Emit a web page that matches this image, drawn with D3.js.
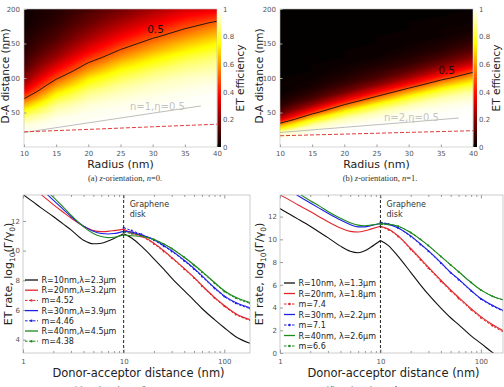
<!DOCTYPE html>
<html>
<head>
<meta charset="utf-8">
<script src="https://cdn.jsdelivr.net/npm/d3@7"></script>
<style>
body { margin: 0; background: #fff; }
svg text { font-family: "DejaVu Sans", sans-serif; }
.tick text { fill: #555; font-size: 7px; }
.tick line { stroke: #999; }
.cap { font-family: "Liberation Serif", serif; font-size: 8.5px; fill: #333; }
</style>
</head>
<body>
<svg id="fig" width="504" height="387"></svg>
<script>
// ---- heat maps: ET efficiency vs radius (columns) and D-A distance (rows)
var radii = [10, 15, 20, 25, 30, 35, 40];
var distRows = [0, 10, 20, 30, 40, 50, 60, 70, 80, 90, 100, 110, 120, 130, 140, 150, 160, 170, 180, 190, 200];

var effN0 = [
  [1, 1, 1, 1, 1, 1, 1],
  [1, 1, 1, 1, 1, 1, 1],
  [0.99, 1, 1, 1, 1, 1, 1],
  [0.97, 0.99, 1, 1, 1, 1, 1],
  [0.90, 0.98, 0.99, 1, 1, 1, 1],
  [0.79, 0.94, 0.98, 0.99, 1, 1, 1],
  [0.65, 0.89, 0.96, 0.98, 0.99, 0.99, 1],
  [0.50, 0.80, 0.92, 0.96, 0.98, 0.99, 0.99],
  [0.37, 0.70, 0.87, 0.93, 0.96, 0.98, 0.99],
  [0.27, 0.59, 0.79, 0.89, 0.94, 0.96, 0.98],
  [0.19, 0.48, 0.71, 0.83, 0.90, 0.94, 0.96],
  [0.14, 0.38, 0.61, 0.76, 0.85, 0.90, 0.93],
  [0.10, 0.30, 0.52, 0.68, 0.78, 0.86, 0.90],
  [0.08, 0.23, 0.43, 0.59, 0.71, 0.80, 0.86],
  [0.06, 0.18, 0.35, 0.51, 0.63, 0.73, 0.80],
  [0.05, 0.14, 0.29, 0.43, 0.56, 0.66, 0.74],
  [0.04, 0.11, 0.23, 0.36, 0.48, 0.58, 0.67],
  [0.03, 0.09, 0.19, 0.30, 0.41, 0.51, 0.60],
  [0.02, 0.07, 0.15, 0.25, 0.34, 0.44, 0.52],
  [0.02, 0.06, 0.13, 0.20, 0.29, 0.37, 0.43],
  [0.02, 0.05, 0.10, 0.17, 0.24, 0.31, 0.34]
];

var effN1 = [
  [1, 1, 1, 1, 1, 1, 1],
  [1, 1, 1, 1, 1, 1, 1],
  [0.93, 0.99, 1, 1, 1, 1, 1],
  [0.65, 0.93, 0.99, 1, 1, 1, 1],
  [0.31, 0.73, 0.93, 0.98, 0.99, 1, 1],
  [0.13, 0.44, 0.77, 0.92, 0.98, 0.99, 1],
  [0.06, 0.23, 0.53, 0.78, 0.92, 0.97, 0.99],
  [0.03, 0.11, 0.31, 0.57, 0.80, 0.92, 0.96],
  [0.01, 0.06, 0.16, 0.36, 0.61, 0.81, 0.91],
  [0.01, 0.03, 0.09, 0.20, 0.40, 0.64, 0.80],
  [0.01, 0.02, 0.05, 0.11, 0.24, 0.44, 0.64],
  [0, 0.01, 0.03, 0.07, 0.14, 0.28, 0.47],
  [0, 0.01, 0.02, 0.04, 0.08, 0.17, 0.31],
  [0, 0, 0.01, 0.02, 0.05, 0.10, 0.20],
  [0, 0, 0.01, 0.01, 0.03, 0.06, 0.13],
  [0, 0, 0, 0.01, 0.02, 0.04, 0.08],
  [0, 0, 0, 0.01, 0.01, 0.02, 0.05],
  [0, 0, 0, 0, 0.01, 0.02, 0.03],
  [0, 0, 0, 0, 0.01, 0.01, 0.02],
  [0, 0, 0, 0, 0, 0.01, 0.01],
  [0, 0, 0, 0, 0, 0, 0.01]
];

// grey n+1 line and red dashed line, [radius, distance]
var greyN0 = [[10, 21], [20, 35], [30, 49], [37.5, 59.5]];
var redN0 = [[10, 22], [20, 25.5], [30, 29.3], [40, 33]];
var greyN1 = [[10, 21], [20, 28.5], [30, 36], [37.8, 42]];
var redN1 = [[10, 16.3], [20, 18.7], [30, 21.2], [40, 23.6]];

var radiusTicks = [10, 15, 20, 25, 30, 35, 40];
var distTicks = [50, 100, 150, 200];
var cbTicks = [0, 0.2, 0.4, 0.6, 0.8, 1];

// ---- ET rate curves, inside (d<=10) and outside (d>=10) the disk
var distIn = [1, 1.25, 1.5, 2, 2.5, 3, 4, 5, 6, 7, 8, 10];
var distOut = [10, 12, 15, 20, 25, 30, 40, 50, 60, 80, 100, 130, 180];

var n0R10In = [13.78, 13.3, 12.9, 12.3, 11.8, 11.4, 10.7, 10.46, 10.5, 10.65, 10.82, 11.13];
var n0R10Out = [11.13, 10.85, 10.3, 9.45, 8.75, 8.15, 7.3, 6.65, 6.1, 5.35, 4.8, 4.2, 3.75];
var n0R20In = [14.7, 14.2, 13.8, 13.1, 12.6, 12.2, 11.65, 11.35, 11.28, 11.3, 11.35, 11.45];
var n0R20Out = [11.45, 11.2, 11.0, 10.5, 10.0, 9.55, 8.8, 8.2, 7.65, 6.85, 6.3, 5.75, 5.35];
var n0R30In = [15.2, 14.7, 14.2, 13.4, 12.8, 12.3, 11.65, 11.3, 11.15, 11.12, 11.15, 11.3];
var n0R30Out = [11.3, 11.25, 11.05, 10.75, 10.35, 10.0, 9.35, 8.8, 8.3, 7.5, 6.95, 6.5, 6.15];
var n0R40In = [15.3, 14.8, 14.4, 13.6, 12.95, 12.4, 11.6, 11.15, 10.95, 10.88, 10.9, 11.05];
var n0R40Out = [11.05, 11.0, 10.95, 10.75, 10.45, 10.15, 9.55, 9.05, 8.6, 7.85, 7.3, 6.85, 6.5];
var n0m452 = [11.4, 11.15, 10.95, 10.45, 9.95, 9.5, 8.75, 8.15, 7.6, 6.8, 6.25, 5.7, 5.3];
var n0m446 = [11.55, 11.35, 11.1, 10.7, 10.3, 9.95, 9.3, 8.75, 8.25, 7.45, 6.9, 6.45, 6.1];
var n0m438 = [11.25, 11.15, 11.0, 10.75, 10.45, 10.15, 9.55, 9.0, 8.55, 7.8, 7.25, 6.8, 6.45];

var n1R10In = [12.71, 12.2, 11.8, 11.15, 10.6, 10.15, 9.4, 8.95, 8.82, 9.0, 9.3, 9.9];
var n1R10Out = [9.9, 9.45, 8.5, 7.1, 6.0, 5.15, 3.95, 3.1, 2.5, 1.5, 0.85, 0.05, -0.8];
var n1R20In = [13.9, 13.45, 13.05, 12.45, 11.95, 11.55, 11.0, 10.7, 10.65, 10.75, 10.9, 11.15];
var n1R20Out = [11.15, 10.9, 10.3, 9.2, 8.3, 7.55, 6.4, 5.55, 4.9, 3.9, 3.2, 2.5, 1.8];
var n1R30In = [14.8, 14.3, 13.85, 13.2, 12.7, 12.3, 11.7, 11.3, 11.1, 11.1, 11.2, 11.4];
var n1R30Out = [11.4, 11.3, 11.0, 10.3, 9.6, 9.0, 7.95, 7.1, 6.5, 5.5, 4.8, 4.2, 3.6];
var n1R40In = [15.1, 14.6, 14.1, 13.4, 12.9, 12.45, 11.85, 11.45, 11.25, 11.2, 11.25, 11.4];
var n1R40Out = [11.4, 11.35, 11.15, 10.6, 10.0, 9.45, 8.5, 7.75, 7.15, 6.2, 5.55, 5.0, 4.6];
var n1m74 = [11.1, 10.85, 10.25, 9.1, 8.2, 7.45, 6.3, 5.45, 4.8, 3.8, 3.1, 2.4, 1.7];
var n1m71 = [11.5, 11.35, 11.0, 10.25, 9.55, 8.95, 7.9, 7.05, 6.45, 5.45, 4.75, 4.15, 3.55];
var n1m66 = [11.3, 11.3, 11.15, 10.6, 10.0, 9.45, 8.5, 7.75, 7.15, 6.2, 5.55, 5.0, 4.6];

var rateTicksN0 = [4, 6, 8, 10, 12];
var rateTicksN1 = [0, 2, 4, 6, 8, 10, 12];
var logTicks = [1, 10, 100];

var cRed = "#e0262b", cBlue = "#1f1fe6", cGreen = "#1d8a1d";

var svg = d3.select("#fig");
svg.append("rect").attr("width", 504).attr("height", 387).attr("fill", "#fff");
var defs = svg.append("defs");

function hot(t) {
  t = Math.max(0, Math.min(1, t));
  var r = Math.min(1, t / 0.375),
      g = Math.max(0, Math.min(1, (t - 0.375) / 0.375)),
      b = Math.max(0, (t - 0.75) / 0.25);
  return d3.rgb(r * 255, g * 255, b * 255).toString();
}

function heatmap(o) {
  var g = svg.append("g");
  var x = d3.scaleLinear().domain([10, 40]).range([o.x0, o.x1]);
  var y = d3.scaleLinear().domain([0, 200]).range([o.y1, o.y0]);

  defs.append("clipPath").attr("id", o.id + "clip")
    .append("rect").attr("x", o.x0).attr("y", o.y0)
    .attr("width", o.x1 - o.x0).attr("height", o.y1 - o.y0);

  var values = [];
  o.grid.forEach(function(row) { row.forEach(function(v) { values.push(v); }); });
  var nx = radii.length, ny = distRows.length;
  var proj = d3.geoTransform({
    point: function(gx, gy) {
      this.stream.point(x(radii[0] + (gx - 0.5) * (radii[1] - radii[0])),
                        y(distRows[0] + (gy - 0.5) * (distRows[1] - distRows[0])));
    }
  });
  var path = d3.geoPath(proj);
  var levels = d3.range(0, 1.0001, 0.01);
  var bands = d3.contours().size([nx, ny]).thresholds(levels)(values);

  var plot = g.append("g").attr("clip-path", "url(#" + o.id + "clip)");
  plot.append("rect").attr("x", o.x0).attr("y", o.y0)
    .attr("width", o.x1 - o.x0).attr("height", o.y1 - o.y0).attr("fill", hot(0));
  plot.selectAll("path.band").data(bands).enter().append("path")
    .attr("class", "band")
    .attr("d", path)
    .attr("fill", function(d) { return hot(d.value + 0.005); })
    .attr("stroke", function(d) { return hot(d.value + 0.005); })
    .attr("stroke-width", 0.3);

  var half = d3.contours().size([nx, ny]).thresholds([0.5])(values);
  plot.selectAll("path.c05").data(half).enter().append("path")
    .attr("class", "c05").attr("d", path)
    .attr("fill", "none").attr("stroke", "#111").attr("stroke-width", 0.9);

  var line = d3.line().x(function(d) { return x(d[0]); }).y(function(d) { return y(d[1]); });
  plot.append("path").attr("d", line(o.grey))
    .attr("fill", "none").attr("stroke", "#bdbdbd").attr("stroke-width", 1);
  plot.append("path").attr("d", line(o.red))
    .attr("fill", "none").attr("stroke", "#e03a3a").attr("stroke-width", 1)
    .attr("stroke-dasharray", "4,2");

  g.append("text").attr("x", o.halfLabel[0]).attr("y", o.halfLabel[1])
    .attr("text-anchor", "middle").attr("font-size", 10.5).attr("fill", "#111").text("0.5");
  g.append("text").attr("x", o.greyLabel[0]).attr("y", o.greyLabel[1])
    .attr("font-size", 10).attr("fill", "#c4c4c4").text(o.greyText);

  // axes with inward ticks
  g.append("g").attr("transform", "translate(0," + o.y1 + ")")
    .call(d3.axisBottom(x).tickValues(radiusTicks).tickSize(-2.5).tickPadding(4))
    .call(function(s) { s.select(".domain").remove(); });
  g.append("g").attr("transform", "translate(" + o.x0 + ",0)")
    .call(d3.axisLeft(y).tickValues(distTicks).tickSize(-2.5).tickPadding(4))
    .call(function(s) { s.select(".domain").remove(); });
  g.append("rect").attr("x", o.x0).attr("y", o.y0)
    .attr("width", o.x1 - o.x0).attr("height", o.y1 - o.y0)
    .attr("fill", "none").attr("stroke", "#bbb").attr("stroke-width", 0.6);

  // colorbar
  var grad = defs.append("linearGradient").attr("id", o.id + "grad")
    .attr("x1", 0).attr("y1", 1).attr("x2", 0).attr("y2", 0);
  d3.range(0, 1.0001, 0.05).forEach(function(t) {
    grad.append("stop").attr("offset", t).attr("stop-color", hot(t));
  });
  var cb = d3.scaleLinear().domain([0, 1]).range([o.y1, o.y0]);
  g.append("rect").attr("x", o.cbX).attr("y", o.y0).attr("width", 3.5)
    .attr("height", o.y1 - o.y0).attr("fill", "url(#" + o.id + "grad)");
  g.append("g").attr("transform", "translate(" + (o.cbX + 3.5) + ",0)")
    .call(d3.axisRight(cb).tickValues(cbTicks).tickSize(0).tickPadding(2)
      .tickFormat(function(d) { return d; }))
    .call(function(s) { s.select(".domain").remove(); });

  g.append("text").attr("transform", "translate(" + o.cbLabelX + "," + ((o.y0 + o.y1) / 2) + ") rotate(-90)")
    .attr("text-anchor", "middle").attr("font-size", 10.5).attr("fill", "#222").text("ET efficiency");
  g.append("text").attr("transform", "translate(" + o.yLabelX + "," + ((o.y0 + o.y1) / 2 - 2) + ") rotate(-90)")
    .attr("text-anchor", "middle").attr("font-size", 10.5).attr("fill", "#222").text("D-A distance (nm)");
  g.append("text").attr("x", (o.x0 + o.x1) / 2).attr("y", o.y1 + 21)
    .attr("text-anchor", "middle").attr("font-size", 11).attr("fill", "#222").text("Radius (nm)");

  var cap = g.append("text").attr("class", "cap").attr("x", o.capX).attr("y", 181).attr("text-anchor", "middle");
  cap.append("tspan").text(o.capTag + " ");
  cap.append("tspan").attr("font-style", "italic").text("z");
  cap.append("tspan").text("-orientation, ");
  cap.append("tspan").attr("font-style", "italic").text("n");
  cap.append("tspan").text("=" + o.capN + ".");
}

heatmap({ id: "hA", x0: 24, x1: 217, y0: 9, y1: 147, grid: effN0, grey: greyN0, red: redN0,
  halfLabel: [155.5, 33], greyLabel: [130, 110], greyText: "n=1,η=0.5",
  cbX: 217.5, cbLabelX: 244, yLabelX: 9, capX: 125, capTag: "(a)", capN: "0" });
heatmap({ id: "hB", x0: 280, x1: 473, y0: 9, y1: 147, grid: effN1, grey: greyN1, red: redN1,
  halfLabel: [446.5, 74], greyLabel: [384, 120.5], greyText: "n=2,η=0.5",
  cbX: 473.5, cbLabelX: 500, yLabelX: 263, capX: 380, capTag: "(b)", capN: "1" });

function rateChart(o) {
  var g = svg.append("g");
  var x = d3.scaleLog().domain([1, o.dMax]).range([o.x0, o.x1]);
  var y = d3.scaleLinear().domain(o.yDom).range([o.y1, o.y0]);
  defs.append("clipPath").attr("id", o.id + "clip")
    .append("rect").attr("x", o.x0).attr("y", o.y0)
    .attr("width", o.x1 - o.x0).attr("height", o.y1 - o.y0);
  var plot = g.append("g").attr("clip-path", "url(#" + o.id + "clip)");

  var line = d3.line().x(function(d) { return x(d[0]); }).y(function(d) { return y(d[1]); })
    .curve(d3.curveMonotoneX);

  o.solid.forEach(function(s) {
    [d3.zip(distIn, s.inside), d3.zip(distOut, s.outside)].forEach(function(pts) {
      plot.append("path").attr("d", line(pts)).attr("fill", "none")
        .attr("stroke", s.color).attr("stroke-width", 1.1);
    });
  });
  o.dip.forEach(function(s) {
    var pts = d3.zip(distOut, s.values);
    plot.append("path").attr("d", line(pts)).attr("fill", "none")
      .attr("stroke", s.color).attr("stroke-width", 1).attr("stroke-dasharray", "2.5,1.5");
    plot.selectAll(null).data(pts).enter().append("circle")
      .attr("cx", function(d) { return x(d[0]); }).attr("cy", function(d) { return y(d[1]); })
      .attr("r", 1).attr("fill", s.color);
  });

  // disk edge
  g.append("line").attr("x1", x(10)).attr("x2", x(10)).attr("y1", o.y0).attr("y2", o.y1)
    .attr("stroke", "#222").attr("stroke-width", 1).attr("stroke-dasharray", "3,2");
  g.append("text").attr("x", x(10) + 6).attr("y", o.y0 + 12).attr("font-size", 8).attr("fill", "#333").text("Graphene");
  g.append("text").attr("x", x(10) + 6).attr("y", o.y0 + 22).attr("font-size", 8).attr("fill", "#333").text("disk");

  // axes
  var minor = [];
  [1, 10, 100].forEach(function(p) {
    [2, 3, 4, 5, 6, 7, 8, 9].forEach(function(k) { if (p * k < o.dMax) minor.push(p * k); });
  });
  g.append("g").attr("transform", "translate(0," + o.y1 + ")")
    .call(d3.axisBottom(x).tickValues(minor).tickSize(-2).tickFormat(""))
    .call(function(s) { s.select(".domain").remove(); });
  g.append("g").attr("transform", "translate(0," + o.y0 + ")")
    .call(d3.axisTop(x).tickValues(minor).tickSize(-2).tickFormat(""))
    .call(function(s) { s.select(".domain").remove(); });
  g.append("g").attr("transform", "translate(0," + o.y1 + ")")
    .call(d3.axisBottom(x).tickValues(logTicks).tickSize(-3.5).tickPadding(6)
      .tickFormat(function(d) { return d; }))
    .call(function(s) { s.select(".domain").remove(); });
  g.append("g").attr("transform", "translate(0," + o.y0 + ")")
    .call(d3.axisTop(x).tickValues(logTicks).tickSize(-3.5).tickFormat(""))
    .call(function(s) { s.select(".domain").remove(); });
  g.append("g").attr("transform", "translate(" + o.x0 + ",0)")
    .call(d3.axisLeft(y).tickValues(o.yTicks).tickSize(-3).tickPadding(3))
    .call(function(s) { s.select(".domain").remove(); });
  g.append("rect").attr("x", o.x0).attr("y", o.y0)
    .attr("width", o.x1 - o.x0).attr("height", o.y1 - o.y0)
    .attr("fill", "none").attr("stroke", "#aaa").attr("stroke-width", 0.6);

  // legend
  var lg = g.append("g");
  o.legend.forEach(function(it, i) {
    var ly = o.legY + i * o.legStep;
    lg.append("line").attr("x1", o.legX).attr("x2", o.legX + o.legLen).attr("y1", ly).attr("y2", ly)
      .attr("stroke", it.color).attr("stroke-width", it.dip ? 1 : 1.3)
      .attr("stroke-dasharray", it.dip ? "2.5,1.5" : null);
    if (it.dip) {
      lg.append("circle").attr("cx", o.legX + o.legLen / 2).attr("cy", ly).attr("r", 1.2).attr("fill", it.color);
    }
    lg.append("text").attr("x", o.legX + o.legLen + 3.5).attr("y", ly + 3).attr("font-size", 8)
      .attr("fill", "#222").text(it.label);
  });

  g.append("text").attr("x", (o.x0 + o.x1) / 2 + 2).attr("y", 377).attr("text-anchor", "middle")
    .attr("font-size", 11.5).attr("fill", "#222").text("Donor-acceptor distance (nm)");
  var yl = g.append("text").attr("transform", "translate(" + o.yLabelX + "," + ((o.y0 + o.y1) / 2) + ") rotate(-90)")
    .attr("text-anchor", "middle").attr("font-size", 11).attr("fill", "#222");
  yl.append("tspan").text("ET rate, log");
  yl.append("tspan").attr("font-size", 7.5).attr("dy", 2.5).text("10");
  yl.append("tspan").attr("dy", -2.5).text("(Γ/γ");
  yl.append("tspan").attr("font-size", 7.5).attr("dy", 2.5).text("0");
  yl.append("tspan").attr("dy", -2.5).text(")");

  // caption sits mostly below the page edge, as in the source figure
  var cap = g.append("text").attr("class", "cap").attr("x", o.capX).attr("y", 392).attr("text-anchor", "middle");
  cap.append("tspan").text(o.capTag + " ");
  cap.append("tspan").attr("font-style", "italic").text("z");
  cap.append("tspan").text("-orientation, ");
  cap.append("tspan").attr("font-style", "italic").text("n");
  cap.append("tspan").text("=" + o.capN + ".");
}

rateChart({ id: "rC", x0: 23, x1: 250, y0: 195, y1: 353, dMax: 180, yDom: [3.1, 13.75], yTicks: rateTicksN0,
  solid: [
    { color: "#111", inside: n0R10In, outside: n0R10Out },
    { color: cRed, inside: n0R20In, outside: n0R20Out },
    { color: cBlue, inside: n0R30In, outside: n0R30Out },
    { color: cGreen, inside: n0R40In, outside: n0R40Out }
  ],
  dip: [
    { color: cRed, values: n0m452 },
    { color: cBlue, values: n0m446 },
    { color: cGreen, values: n0m438 }
  ],
  legend: [
    { color: "#111", label: "R=10nm,λ=2.3μm" },
    { color: cRed, label: "R=20nm,λ=3.2μm" },
    { color: cRed, label: "m=4.52", dip: true },
    { color: cBlue, label: "R=30nm,λ=3.9μm" },
    { color: cBlue, label: "m=4.46", dip: true },
    { color: cGreen, label: "R=40nm,λ=4.5μm" },
    { color: cGreen, label: "m=4.38", dip: true }
  ],
  legX: 25, legY: 280, legStep: 10.2, legLen: 13, yLabelX: 12, capX: 111, capTag: "(c)", capN: "0" });

rateChart({ id: "rD", x0: 280, x1: 503, y0: 195, y1: 353, dMax: 166, yDom: [0, 13.9], yTicks: rateTicksN1,
  solid: [
    { color: "#111", inside: n1R10In, outside: n1R10Out },
    { color: cRed, inside: n1R20In, outside: n1R20Out },
    { color: cBlue, inside: n1R30In, outside: n1R30Out },
    { color: cGreen, inside: n1R40In, outside: n1R40Out }
  ],
  dip: [
    { color: cRed, values: n1m74 },
    { color: cBlue, values: n1m71 },
    { color: cGreen, values: n1m66 }
  ],
  legend: [
    { color: "#111", label: "R=10nm, λ=1.3μm" },
    { color: cRed, label: "R=20nm, λ=1.8μm" },
    { color: cRed, label: "m=7.4", dip: true },
    { color: cBlue, label: "R=30nm, λ=2.2μm" },
    { color: cBlue, label: "m=7.1", dip: true },
    { color: cGreen, label: "R=40nm, λ=2.6μm" },
    { color: cGreen, label: "m=6.6", dip: true }
  ],
  legX: 284, legY: 283, legStep: 10.5, legLen: 11, yLabelX: 263, capX: 363, capTag: "(d)", capN: "1" });
</script>
</body>
</html>
